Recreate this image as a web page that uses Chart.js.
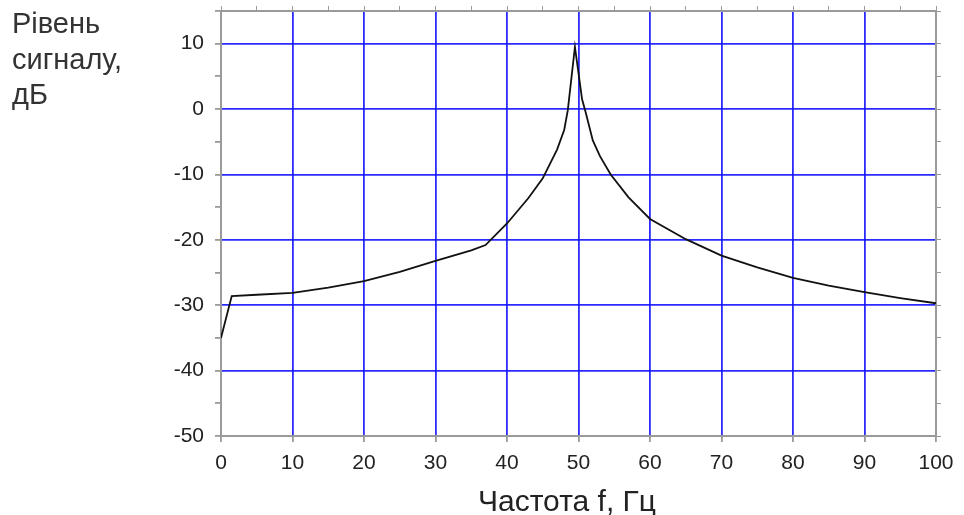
<!DOCTYPE html>
<html>
<head>
<meta charset="utf-8">
<script src="https://cdn.jsdelivr.net/npm/chart.js@4/dist/chart.umd.min.js"></script>
<style>
  body { margin: 0; background: #fff; }
  #wrap { position: relative; width: 964px; height: 515px; }
</style>
</head>
<body>
<div id="wrap"><canvas id="spectrum" width="964" height="515"></canvas></div>
<script>
// frequency response
var freqs  = [0, 1.5, 5, 10, 15, 20, 25, 30, 35, 37, 40, 43, 45, 47, 48, 48.5, 49.5, 50.5, 51, 52, 53, 54.5, 57, 60, 65, 70, 75, 80, 85, 90, 95, 100];
var levels = [-35, -28.6, -28.4, -28.1, -27.3, -26.3, -24.9, -23.2, -21.6, -20.8, -17.5, -13.6, -10.6, -6.2, -3.2, -0.2, 9.5, 1.5, -0.5, -4.8, -7.2, -10, -13.5, -16.8, -19.9, -22.4, -24.2, -25.8, -27, -28, -28.9, -29.7];

var xTicks = [0, 10, 20, 30, 40, 50, 60, 70, 80, 90, 100];
var yTicks = [-50, -40, -30, -20, -10, 0, 10];

var yTitleLines = ['Рівень', 'сигналу,', 'дБ'];
var xTitle = 'Частота f, Гц';

var points = [];
for (var i = 0; i < freqs.length; i++) {
  points.push({x: freqs[i], y: levels[i]});
}

var gridBlue = 'rgba(20,20,255,0.9)';
var axisGrey = '#9a9a9a';
var fontName = '"Liberation Sans", Arial, sans-serif';
var labelFont = {family: fontName, size: 21};

function majorGrid(list, lo, hi) {
  return function(c) {
    var v = c.tick.value;
    if (v === lo || v === hi) return 'rgba(0,0,0,0)';
    return list.indexOf(v) >= 0 ? gridBlue : 'rgba(0,0,0,0)';
  };
}

// axis titles drawn by hand, the y one sits in the top left corner
var titles = {
  id: 'titles',
  afterDraw: function(chart) {
    var ctx = chart.ctx;
    ctx.save();
    ctx.fillStyle = '#333';
    ctx.textBaseline = 'alphabetic';
    ctx.font = '29px ' + fontName;
    var base = [33, 69, 104];
    for (var i = 0; i < yTitleLines.length; i++) {
      ctx.fillText(yTitleLines[i], 12, base[i]);
    }
    ctx.font = '30px ' + fontName;
    ctx.textAlign = 'center';
    ctx.fillStyle = '#222';
    ctx.fillText(xTitle, 567, 511);
    ctx.restore();
  }
};

var ctx = document.getElementById('spectrum').getContext('2d');
var chart = new Chart(ctx, {
  type: 'line',
  data: {
    datasets: [{
      data: points,
      borderColor: '#111',
      borderWidth: 1.8,
      pointRadius: 0,
      tension: 0,
      fill: false
    }]
  },
  options: {
    responsive: false,
    animation: false,
    layout: {padding: 0},
    plugins: {legend: {display: false}, tooltip: {enabled: false}},
    scales: {
      x: {
        type: 'linear', position: 'bottom', min: 0, max: 100,
        afterFit: function(s) { s.height = 79; s.paddingLeft = 0; s.paddingRight = 0; },
        ticks: {
          stepSize: 5, color: '#222', font: labelFont, padding: 9, maxRotation: 0,
          callback: function(v) { return xTicks.indexOf(v) >= 0 ? v : ''; }
        },
        grid: {color: majorGrid(xTicks, 0, 100), lineWidth: 1.8, tickColor: axisGrey, tickLength: 6},
        border: {color: axisGrey, width: 2}
      },
      y: {
        type: 'linear', position: 'left', min: -50, max: 15,
        afterFit: function(s) { s.width = 221; s.paddingTop = 0; s.paddingBottom = 0; },
        ticks: {
          stepSize: 5, color: '#222', font: labelFont, padding: 11,
          callback: function(v) { return yTicks.indexOf(v) >= 0 ? v : ''; }
        },
        grid: {color: majorGrid(yTicks, -50, 15), lineWidth: 1.8, tickColor: axisGrey, tickLength: 6},
        border: {color: axisGrey, width: 2}
      },
      xTop: {
        type: 'linear', position: 'top', min: 0, max: 100,
        afterFit: function(s) { s.height = 11; s.paddingLeft = 0; s.paddingRight = 0; },
        ticks: {stepSize: 5, display: false},
        grid: {drawOnChartArea: false, tickColor: axisGrey, tickLength: 5},
        border: {color: axisGrey, width: 2}
      },
      yRight: {
        type: 'linear', position: 'right', min: -50, max: 15,
        afterFit: function(s) { s.width = 28; s.paddingTop = 0; s.paddingBottom = 0; },
        ticks: {stepSize: 5, display: false},
        grid: {drawOnChartArea: false, tickColor: axisGrey, tickLength: 5},
        border: {color: axisGrey, width: 2}
      }
    }
  },
  plugins: [titles]
});
</script>
</body>
</html>
